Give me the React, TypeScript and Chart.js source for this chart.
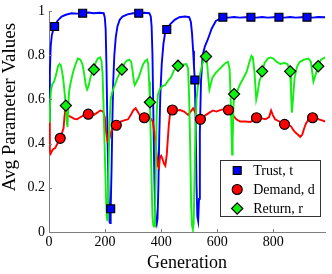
import React, { useEffect, useRef } from "react";
import { Chart, registerables } from "chart.js";

Chart.register(...registerables);

const FONT = "'Liberation Serif', 'Times New Roman', serif";

// ---- Data ----
const trustGen = [0, 3, 6, 10, 15, 20, 30, 45, 60, 80, 100, 120, 140, 160, 180, 195, 199, 202, 205, 208, 211, 214, 216, 218, 220, 223, 226, 229, 233, 238, 244, 252, 262, 280, 300, 320, 340, 358, 363, 366, 369, 372, 375, 378, 381, 384, 387, 390, 393, 397, 402, 408, 414, 420, 432, 448, 465, 485, 500, 506, 510, 514, 517, 520, 523, 526, 529, 532, 535, 538, 542, 548, 556, 566, 580, 595, 610, 620, 640, 660, 680, 700, 720, 740, 760, 780, 800, 820, 840, 860, 880, 900, 920, 940, 960, 985];
const trustVal = [0.5, 0.72, 0.84, 0.89, 0.915, 0.93, 0.955, 0.975, 0.983, 0.99, 0.988, 0.99, 0.993, 0.99, 0.992, 0.99, 0.97, 0.92, 0.75, 0.5, 0.25, 0.09, 0.045, 0.04, 0.105, 0.28, 0.5, 0.68, 0.8, 0.88, 0.93, 0.96, 0.975, 0.985, 0.99, 0.99, 0.992, 0.99, 0.975, 0.93, 0.8, 0.55, 0.3, 0.12, 0.05, 0.035, 0.06, 0.2, 0.42, 0.62, 0.76, 0.85, 0.9, 0.916, 0.94, 0.96, 0.972, 0.975, 0.972, 0.95, 0.9, 0.82, 0.75, 0.688, 0.5, 0.22, 0.07, 0.05, 0.15, 0.45, 0.68, 0.8, 0.84, 0.87, 0.92, 0.955, 0.965, 0.972, 0.97, 0.973, 0.97, 0.972, 0.972, 0.97, 0.973, 0.97, 0.972, 0.972, 0.97, 0.973, 0.97, 0.972, 0.972, 0.97, 0.973, 0.972];

const demandGen = [0, 3, 6, 10, 15, 22, 30, 40, 48, 52, 55, 58, 62, 70, 80, 90, 100, 110, 120, 130, 140, 150, 160, 172, 183, 193, 199, 204, 209, 215, 222, 230, 240, 253, 268, 282, 292, 300, 309, 316, 323, 332, 340, 351, 362, 370, 376, 382, 388, 392, 396, 400, 405, 410, 415, 420, 427, 432, 440, 452, 467, 482, 496, 505, 514, 522, 530, 540, 550, 560, 572, 585, 597, 608, 620, 630, 640, 650, 658, 668, 682, 700, 717, 730, 740, 755, 772, 785, 792, 798, 806, 822, 840, 855, 863, 871, 879, 888, 896, 903, 909, 916, 926, 940, 950, 962, 974, 985];
const demandVal = [0.5, 0.37, 0.355, 0.365, 0.375, 0.38, 0.4, 0.424, 0.455, 0.47, 0.52, 0.55, 0.535, 0.525, 0.52, 0.512, 0.51, 0.518, 0.525, 0.53, 0.533, 0.535, 0.53, 0.54, 0.55, 0.545, 0.52, 0.45, 0.41, 0.42, 0.455, 0.472, 0.483, 0.498, 0.505, 0.51, 0.53, 0.55, 0.56, 0.545, 0.53, 0.52, 0.517, 0.52, 0.515, 0.5, 0.45, 0.38, 0.3, 0.29, 0.34, 0.345, 0.33, 0.31, 0.3, 0.35, 0.48, 0.54, 0.552, 0.55, 0.552, 0.545, 0.53, 0.545, 0.56, 0.54, 0.52, 0.51, 0.52, 0.53, 0.54, 0.55, 0.545, 0.55, 0.555, 0.56, 0.552, 0.56, 0.525, 0.51, 0.5, 0.5, 0.498, 0.505, 0.517, 0.515, 0.51, 0.52, 0.55, 0.53, 0.51, 0.5, 0.487, 0.485, 0.478, 0.462, 0.45, 0.44, 0.43, 0.44, 0.465, 0.49, 0.51, 0.517, 0.52, 0.51, 0.505, 0.5];

const returnGen = [0, 3, 7, 12, 18, 25, 32, 38, 42, 46, 50, 55, 60, 63, 66, 69, 72, 78, 85, 95, 103, 112, 119, 125, 131, 136, 141, 148, 155, 160, 166, 174, 182, 187, 191, 195, 199, 203, 206, 208, 210, 213, 216, 220, 226, 235, 245, 253, 260, 268, 277, 286, 293, 298, 302, 306, 312, 320, 328, 336, 344, 350, 354, 357, 360, 363, 366, 369, 372, 375, 378, 381, 384, 388, 395, 405, 415, 425, 435, 445, 460, 470, 480, 490, 496, 500, 504, 507, 510, 513, 516, 519, 522, 526, 531, 538, 546, 553, 560, 564, 568, 572, 576, 583, 595, 606, 618, 630, 638, 644, 648, 651, 653, 655, 658, 660, 664, 672, 682, 695, 705, 715, 722, 727, 733, 739, 744, 750, 755, 760, 769, 780, 790, 800, 812, 825, 840, 850, 856, 860, 863, 866, 870, 876, 885, 895, 910, 925, 934, 939, 943, 948, 955, 960, 970, 985];
const returnVal = [0.5, 0.56, 0.64, 0.67, 0.68, 0.71, 0.75, 0.76, 0.755, 0.73, 0.7, 0.64, 0.572, 0.5, 0.475, 0.58, 0.64, 0.68, 0.72, 0.76, 0.785, 0.78, 0.76, 0.72, 0.665, 0.645, 0.66, 0.7, 0.725, 0.735, 0.765, 0.785, 0.79, 0.775, 0.72, 0.55, 0.36, 0.17, 0.07, 0.053, 0.1, 0.33, 0.5, 0.6, 0.635, 0.665, 0.7, 0.72, 0.735, 0.76, 0.775, 0.78, 0.77, 0.73, 0.685, 0.665, 0.68, 0.7, 0.73, 0.76, 0.775, 0.78, 0.76, 0.68, 0.587, 0.42, 0.22, 0.07, 0.03, 0.025, 0.06, 0.3, 0.53, 0.62, 0.645, 0.66, 0.665, 0.685, 0.7, 0.73, 0.752, 0.755, 0.758, 0.76, 0.74, 0.6, 0.35, 0.12, 0.03, 0.012, 0.04, 0.25, 0.45, 0.6, 0.66, 0.71, 0.755, 0.785, 0.794, 0.76, 0.7, 0.645, 0.665, 0.7, 0.72, 0.735, 0.75, 0.765, 0.77, 0.74, 0.6, 0.45, 0.35, 0.42, 0.57, 0.624, 0.61, 0.64, 0.67, 0.7, 0.725, 0.77, 0.797, 0.79, 0.72, 0.6, 0.63, 0.68, 0.7, 0.727, 0.765, 0.785, 0.79, 0.785, 0.77, 0.76, 0.765, 0.76, 0.745, 0.727, 0.64, 0.54, 0.6, 0.7, 0.75, 0.77, 0.78, 0.785, 0.77, 0.72, 0.68, 0.7, 0.73, 0.75, 0.78, 0.79];

const trustMarkGen = [20, 120, 220, 320, 420, 520, 620, 720, 820, 920];
const trustMarkVal = [0.93, 0.99, 0.105, 0.99, 0.916, 0.688, 0.972, 0.972, 0.972, 0.972];
const demandMarkGen = [40, 140, 240, 340, 440, 540, 640, 740, 840, 940];
const demandMarkVal = [0.424, 0.533, 0.483, 0.517, 0.552, 0.51, 0.552, 0.517, 0.487, 0.517];
const returnMarkGen = [60, 160, 260, 360, 460, 560, 660, 760, 860, 960];
const returnMarkVal = [0.572, 0.735, 0.735, 0.587, 0.752, 0.794, 0.624, 0.727, 0.727, 0.75];

const xTicks = [0, 200, 400, 600, 800];
const yTicks = [0, 0.2, 0.4, 0.6, 0.8, 1];
const xMin = 0;
const xMax = 985;
const seriesLabels = ["Trust, t", "Demand, d", "Return, r"];
const xTitle = "Generation";
const yTitle = "Avg Parameter Values";

const lineColors = ["#0000ff", "#ff0000", "#11ee11"];
const markerFills = ["#0000ff", "#ff0000", "#11ee11"];
const markerStyles = ["rect", "circle", "rectRot"];
const markerRadii = [5.6, 5, 5.6];

const toPts = (xs: number[], ys: number[]) => xs.map((x, i) => ({ x, y: ys[i] }));

const AXIS_GRAY = "#7f7f7f";

const inwardTicks = {
  id: "inwardTicks",
  afterDatasetsDraw(chart: any) {
    const { ctx, chartArea, scales } = chart;
    ctx.save();
    ctx.strokeStyle = AXIS_GRAY;
    ctx.lineWidth = 1;
    ctx.beginPath();
    for (const v of xTicks) {
      const px = Math.round(scales.x.getPixelForValue(v)) + 0.5;
      ctx.moveTo(px, chartArea.bottom);
      ctx.lineTo(px, chartArea.bottom - 3);
    }
    for (const v of yTicks) {
      const py = Math.round(scales.y.getPixelForValue(v)) + 0.5;
      ctx.moveTo(chartArea.left, py);
      ctx.lineTo(chartArea.left + 3, py);
    }
    ctx.stroke();
    ctx.restore();
  },
};

// y-axis title, placed like the original (slightly above the axis centre)
const yTitlePlugin = {
  id: "yTitlePlugin",
  afterDraw(chart: any) {
    const { ctx, chartArea } = chart;
    ctx.save();
    ctx.translate(15, chartArea.top + (chartArea.bottom - chartArea.top) * 0.435);
    ctx.rotate(-Math.PI / 2);
    ctx.font = `19px ${FONT}`;
    ctx.fillStyle = "#000000";
    ctx.textAlign = "center";
    ctx.textBaseline = "alphabetic";
    ctx.fillText(yTitle, 0, 0);
    ctx.restore();
  },
};

function drawMarker(ctx: CanvasRenderingContext2D, style: string, x: number, y: number, r: number) {
  ctx.beginPath();
  if (style === "rect") {
    const s = Math.SQRT1_2 * r;
    ctx.rect(x - s, y - s, 2 * s, 2 * s);
  } else if (style === "circle") {
    ctx.arc(x, y, r, 0, Math.PI * 2);
  } else {
    ctx.moveTo(x, y - r);
    ctx.lineTo(x + r, y);
    ctx.lineTo(x, y + r);
    ctx.lineTo(x - r, y);
    ctx.closePath();
  }
  ctx.fill();
  ctx.stroke();
}

const boxLegend = {
  id: "boxLegend",
  afterDraw(chart: any) {
    const { ctx, chartArea } = chart;
    const w = 100;
    const h = 56;
    const right = chartArea.right - 5;
    const bottom = chartArea.bottom - 16;
    const left = right - w;
    const top = bottom - h;
    ctx.save();
    ctx.fillStyle = "#ffffff";
    ctx.fillRect(left, top, w, h);
    ctx.strokeStyle = "#333333";
    ctx.lineWidth = 1;
    ctx.strokeRect(Math.round(left) + 0.5, Math.round(top) + 0.5, w, h);
    ctx.font = `14px ${FONT}`;
    ctx.textBaseline = "middle";
    ctx.textAlign = "left";
    seriesLabels.forEach((lab, i) => {
      const cy = top + 10.5 + i * 19;
      ctx.fillStyle = markerFills[i];
      ctx.strokeStyle = "#000000";
      ctx.lineWidth = 1.2;
      drawMarker(ctx, markerStyles[i], left + 17, cy, markerRadii[i]);
      ctx.fillStyle = "#000000";
      ctx.fillText(lab, left + 33, cy + 1);
    });
    ctx.restore();
  },
};

export default function App() {
  const canvasRef = useRef<HTMLCanvasElement | null>(null);

  useEffect(() => {
    if (!canvasRef.current) return;
    const lineSeries = [
      { gen: trustGen, val: trustVal },
      { gen: demandGen, val: demandVal },
      { gen: returnGen, val: returnVal },
    ];
    const markSeries = [
      { gen: trustMarkGen, val: trustMarkVal },
      { gen: demandMarkGen, val: demandMarkVal },
      { gen: returnMarkGen, val: returnMarkVal },
    ];
    const datasets: any[] = [];
    lineSeries.forEach((s, i) => {
      datasets.push({
        label: seriesLabels[i] + " line",
        data: toPts(s.gen, s.val),
        borderColor: lineColors[i],
        backgroundColor: lineColors[i],
        borderWidth: 1.9,
        pointRadius: 0,
        tension: 0,
        fill: false,
        order: 4 - i,
      });
    });
    markSeries.forEach((s, i) => {
      datasets.push({
        label: seriesLabels[i],
        data: toPts(s.gen, s.val),
        showLine: false,
        pointStyle: markerStyles[i],
        pointRadius: markerRadii[i],
        pointBackgroundColor: markerFills[i],
        pointBorderColor: "#000000",
        pointBorderWidth: 1.2,
        clip: false,
        order: 0,
      });
    });

    const chart = new Chart(canvasRef.current, {
      type: "line",
      data: { datasets },
      plugins: [inwardTicks, boxLegend, yTitlePlugin],
      options: {
        animation: false,
        responsive: false,
        devicePixelRatio: 1,
        layout: { padding: { top: 7, right: 0, left: 0, bottom: 0 } },
        plugins: {
          legend: { display: false },
          tooltip: { enabled: false },
        },
        scales: {
          x: {
            type: "linear",
            min: xMin,
            max: xMax,
            afterBuildTicks: (scale: any) => {
              scale.ticks = xTicks.map((v) => ({ value: v }));
            },
            afterFit: (scale: any) => {
              scale.height = 42;
            },
            grid: { display: false, drawTicks: false },
            border: { display: true, color: AXIS_GRAY, width: 1 },
            ticks: {
              color: "#000000",
              padding: 3,
              maxRotation: 0,
              font: { family: FONT, size: 14, lineHeight: 1 },
              callback: (v: any) => String(v),
            },
            title: {
              display: true,
              text: xTitle,
              color: "#000000",
              padding: { top: 0, bottom: 2 },
              font: { family: FONT, size: 18, lineHeight: 1 },
            },
          },
          y: {
            type: "linear",
            min: 0,
            max: 1,
            afterBuildTicks: (scale: any) => {
              scale.ticks = yTicks.map((v) => ({ value: v }));
            },
            afterFit: (scale: any) => {
              scale.width = 49;
            },
            grid: { display: false, drawTicks: false },
            border: { display: true, color: AXIS_GRAY, width: 1 },
            ticks: {
              color: "#000000",
              padding: 4,
              font: { family: FONT, size: 14, lineHeight: 1 },
              callback: (v: any) => String(Math.round(v * 10) / 10),
            },
            title: { display: false },
          },
        },
      } as any,
    });
    return () => chart.destroy();
  }, []);

  return (
    <div style={{ position: "absolute", left: 0, top: 0, width: 332, height: 274, background: "#ffffff", overflow: "hidden" }}>
      <canvas ref={canvasRef} width={332} height={274} style={{ display: "block" }} />
    </div>
  );
}
